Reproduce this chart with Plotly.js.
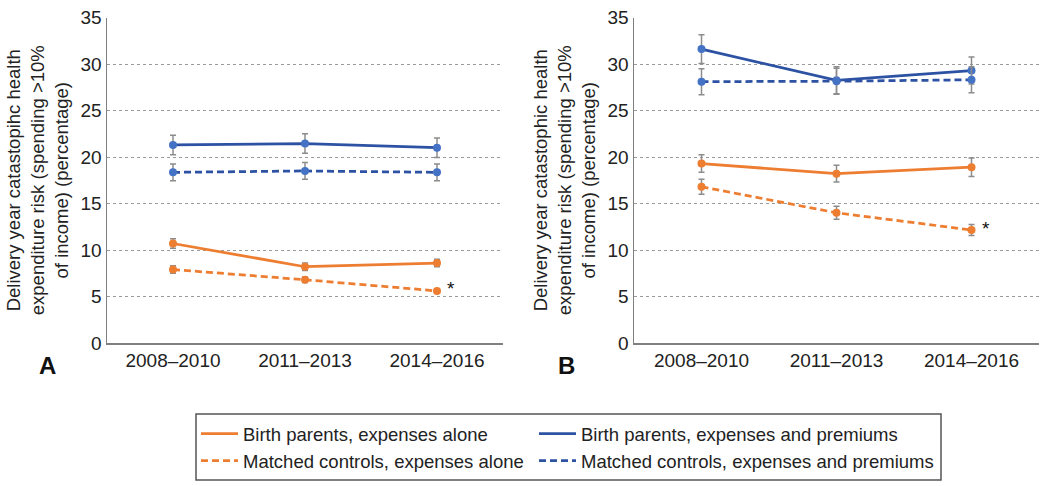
<!DOCTYPE html>
<html>
<head>
<meta charset="utf-8">
<script src="https://cdn.plot.ly/plotly-3.0.1.min.js"></script>
<style>
  html, body { margin: 0; padding: 0; background: #fff; }
  #chart { width: 1050px; height: 486px; }
</style>
</head>
<body>
<div id="chart"></div>
<script>
// categories
const periods = ['2008–2010', '2011–2013', '2014–2016'];

// Panel A: catastrophic spending risk (%)
const aBirthAlone = [10.7, 8.2, 8.6];
const aBirthAloneErr = [0.5, 0.4, 0.4];
const aCtrlAlone = [7.9, 6.8, 5.6];
const aCtrlAloneErr = [0.4, 0.3, 0.2];
const aBirthPrem = [21.3, 21.45, 21.0];
const aBirthPremErr = [1.05, 1.05, 1.05];
const aCtrlPrem = [18.35, 18.5, 18.35];
const aCtrlPremErr = [0.9, 0.9, 0.9];

// Panel B
const bBirthAlone = [19.3, 18.2, 18.9];
const bBirthAloneErr = [0.95, 0.9, 1.0];
const bCtrlAlone = [16.8, 14.0, 12.15];
const bCtrlAloneErr = [0.8, 0.7, 0.6];
const bBirthPrem = [31.6, 28.25, 29.3];
const bBirthPremErr = [1.55, 1.45, 1.45];
const bCtrlPrem = [28.1, 28.15, 28.3];
const bCtrlPremErr = [1.4, 1.4, 1.4];

const seriesNames = [
  'Birth parents, expenses alone',
  'Birth parents, expenses and premiums',
  'Matched controls, expenses alone',
  'Matched controls, expenses and premiums'
];

const ORANGE = '#ED7D31';
const BLUE_LINE = '#2D52A3';
const BLUE_MARK = '#4472C4';
const ERR = '#8c8c8c';
const FONT = 'Liberation Sans, Arial, sans-serif';
const DASH = '7px,4px';

// each series = a line trace (carries the legend entry) + a marker trace with error bars
function series(name, y, err, color, markColor, dash, xa, ya, legend) {
  const out = [{
    type: 'scatter', mode: 'lines', name: name,
    x: periods, y: y, xaxis: xa, yaxis: ya,
    showlegend: !!legend, legend: legend || 'legend',
    line: { color: color, width: 2.75, dash: dash }
  }, {
    type: 'scatter', mode: 'markers', name: name,
    x: periods, y: y, xaxis: xa, yaxis: ya, showlegend: false,
    marker: { color: markColor, size: 8 },
    error_y: { type: 'data', array: err, visible: true, color: ERR, thickness: 1.5, width: 3 }
  }];
  return out;
}

const data = [].concat(
  series(seriesNames[0], aBirthAlone, aBirthAloneErr, ORANGE, ORANGE, 'solid', 'x', 'y', 'legend'),
  series(seriesNames[2], aCtrlAlone, aCtrlAloneErr, ORANGE, ORANGE, DASH, 'x', 'y', 'legend'),
  series(seriesNames[1], aBirthPrem, aBirthPremErr, BLUE_LINE, BLUE_MARK, 'solid', 'x', 'y', 'legend2'),
  series(seriesNames[3], aCtrlPrem, aCtrlPremErr, BLUE_LINE, BLUE_MARK, DASH, 'x', 'y', 'legend2'),
  series(seriesNames[0], bBirthAlone, bBirthAloneErr, ORANGE, ORANGE, 'solid', 'x2', 'y2', null),
  series(seriesNames[2], bCtrlAlone, bCtrlAloneErr, ORANGE, ORANGE, DASH, 'x2', 'y2', null),
  series(seriesNames[1], bBirthPrem, bBirthPremErr, BLUE_LINE, BLUE_MARK, 'solid', 'x2', 'y2', null),
  series(seriesNames[3], bCtrlPrem, bCtrlPremErr, BLUE_LINE, BLUE_MARK, DASH, 'x2', 'y2', null)
);

const yDomain = [1 - 343 / 486, 1 - 17.5 / 486];

function xAxis(domain, anchor) {
  return {
    domain: domain, anchor: anchor,
    type: 'category', range: [-0.5, 2.5],
    showline: true, linecolor: '#7f7f7f', linewidth: 1.5,
    showgrid: false, ticks: '', zeroline: false,
    tickfont: { family: FONT, size: 19, color: '#222' }
  };
}

function yAxis(domain, anchor, title) {
  return {
    domain: domain, anchor: anchor,
    range: [0, 35], dtick: 5,
    showline: true, linecolor: '#7f7f7f', linewidth: 1.5,
    showgrid: true, gridcolor: '#9a9a9a', griddash: 'dot', gridwidth: 1,
    zeroline: false, ticks: '',
    tickfont: { family: FONT, size: 19, color: '#222' },
    title: { text: title, standoff: 7, font: { family: FONT, size: 18.5, color: '#222' } }
  };
}

function legendBox(x) {
  return {
    orientation: 'v',
    x: x, xanchor: 'left',
    y: 1 - 415 / 486, yanchor: 'top',
    bgcolor: 'rgba(0,0,0,0)', borderwidth: 0,
    itemwidth: 37,
    font: { family: FONT, size: 18.5, color: '#222' },
    traceorder: 'normal'
  };
}

const layout = {
  width: 1050, height: 486,
  margin: { l: 0, r: 0, t: 0, b: 0 },
  paper_bgcolor: '#fff', plot_bgcolor: '#fff',
  font: { family: FONT, color: '#222' },
  xaxis: xAxis([107 / 1050, 503 / 1050], 'y'),
  yaxis: yAxis(yDomain, 'x', 'Delivery year catastopihc health<br>expenditure risk (spending >10%<br>of income) (percentage)'),
  xaxis2: xAxis([634 / 1050, 1039 / 1050], 'y2'),
  yaxis2: yAxis(yDomain, 'x2', 'Delivery year catastophic health<br>expenditure risk (spending >10%<br>of income) (percentage)'),
  showlegend: true,
  legend: legendBox(196 / 1050),
  legend2: legendBox(534 / 1050),
  shapes: [
    { type: 'rect', xref: 'paper', yref: 'paper',
      x0: 196 / 1050, x1: 941 / 1050, y0: 1 - 480 / 486, y1: 1 - 414 / 486,
      line: { color: '#555', width: 1.5 }, fillcolor: 'rgba(0,0,0,0)' }
  ],
  annotations: [
    { text: '<b>A</b>', xref: 'paper', yref: 'paper', x: 37 / 1050, y: 1 - 381 / 486,
      showarrow: false, font: { family: FONT, size: 24, color: '#111' } },
    { text: '<b>B</b>', xref: 'paper', yref: 'paper', x: 566 / 1050, y: 1 - 381 / 486,
      showarrow: false, font: { family: FONT, size: 24, color: '#111' } },
    { text: '*', xref: 'x', yref: 'y', x: periods[2], y: aCtrlAlone[2], xshift: 14, yshift: 2,
      showarrow: false, font: { family: FONT, size: 19, color: '#111' } },
    { text: '*', xref: 'x2', yref: 'y2', x: periods[2], y: bCtrlAlone[2], xshift: 14, yshift: 2,
      showarrow: false, font: { family: FONT, size: 19, color: '#111' } }
  ]
};

Plotly.newPlot('chart', data, layout, { displayModeBar: false, staticPlot: true });
</script>
</body>
</html>
